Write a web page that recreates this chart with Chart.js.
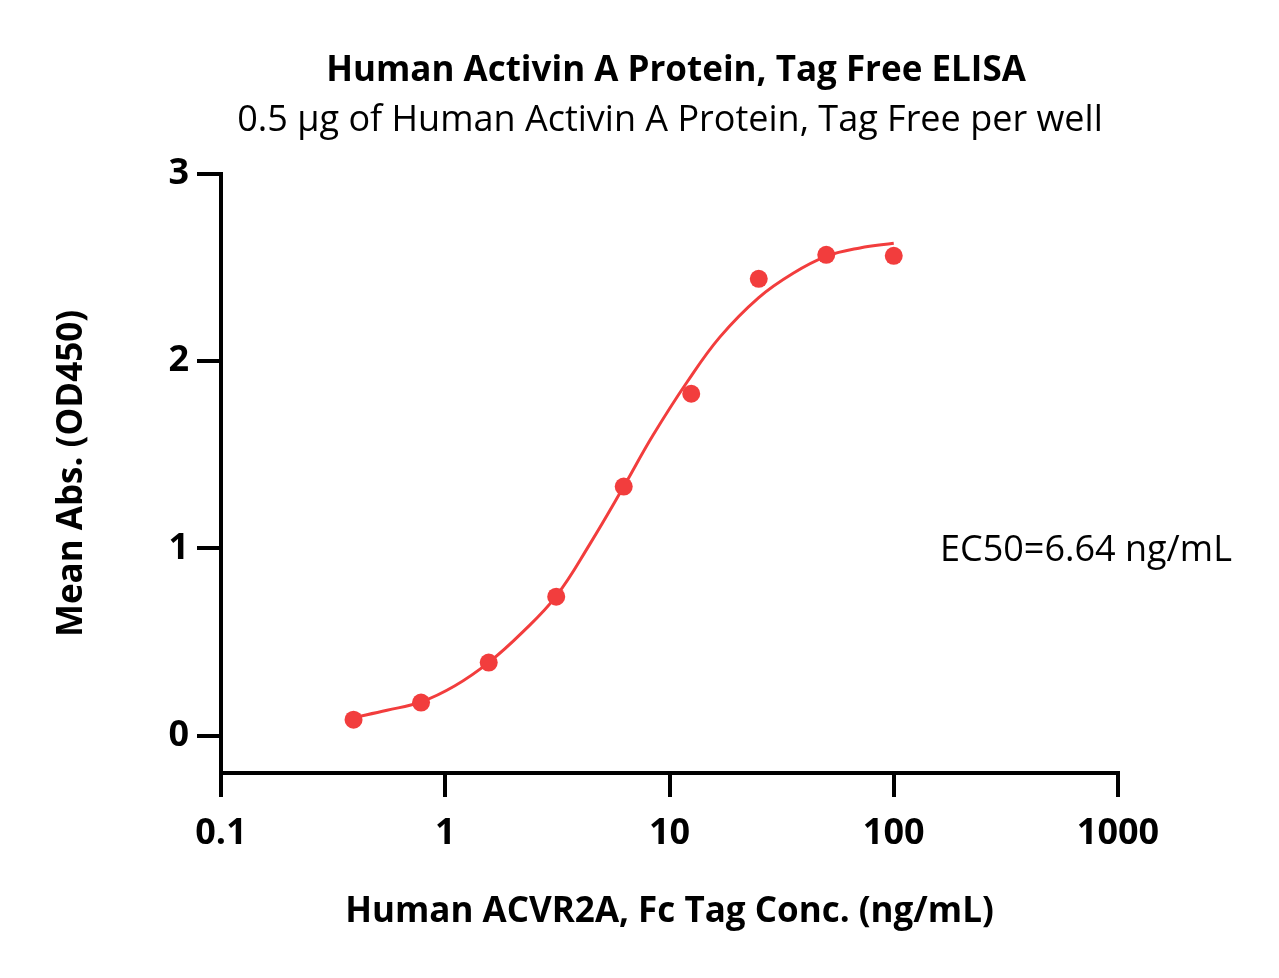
<!DOCTYPE html>
<html lang="en">
<head>
    <meta charset="UTF-8">
    <title>Human Activin A Protein ELISA</title>
    <script src="https://cdn.jsdelivr.net/npm/chart.js"></script>
    <style>
        html, body { margin: 0; padding: 0; background: #fff; }
        #wrap { width: 1279px; height: 978px; position: relative; }
    </style>
</head>
<body>
<div id="wrap"><canvas id="chartElisa"></canvas></div>

<script>
    // measured points (conc. in ng/mL, OD450)
    const concPoints = [0.39, 0.78, 1.5625, 3.125, 6.25, 12.5, 25, 50, 100];
    const absPoints = [0.085, 0.176, 0.39, 0.742, 1.33, 1.826, 2.44, 2.568, 2.563];

    // fitted curve
    const concCurve = [0.39, 0.55, 0.78, 1.1, 1.56, 2.2, 3.125, 4.4, 6.25, 8.4, 12, 16.8, 25, 35.6, 50, 70.7, 100];
    const absCurve = [0.096, 0.135, 0.18, 0.265, 0.39, 0.55, 0.745, 1.02, 1.33, 1.60, 1.89, 2.13, 2.34, 2.47, 2.56, 2.605, 2.63];

    const xTicks = [0.1, 1, 10, 100, 1000];
    const yTicks = [0, 1, 2, 3];

    const titulo = "Human Activin A Protein, Tag Free ELISA";
    const subtitulo = "0.5 \u03bcg of Human Activin A Protein, Tag Free per well";
    const textoEC50 = "EC50=6.64 ng/mL";

    const vermelho = "#f23d3d";
    const fonte = "'Open Sans', Lato, sans-serif";

    // texts drawn at fixed places on the canvas
    const textosPlugin = {
        id: "textos",
        afterDraw(chart) {
            const ctx = chart.ctx;
            ctx.save();
            ctx.fillStyle = "#000";
            ctx.textAlign = "center";
            ctx.textBaseline = "middle";
            ctx.font = "bold 35px " + fonte;
            ctx.fillText(titulo, 676, 71);
            ctx.font = "36px " + fonte;
            ctx.fillText(subtitulo, 670, 121);
            ctx.textAlign = "left";
            ctx.font = "36px " + fonte;
            ctx.fillText(textoEC50, 940, 551);
            ctx.restore();
        }
    };

    const grafico = new Chart(document.getElementById("chartElisa"), {
        type: "scatter",
        data: {
            datasets: [{
                label: "Pontos",
                data: concPoints.map((x, i) => ({ x: x, y: absPoints[i] })),
                backgroundColor: vermelho,
                borderColor: vermelho,
                pointRadius: 9,
                pointBorderWidth: 0,
                order: 0
            }, {
                label: "Curva",
                type: "line",
                data: concCurve.map((x, i) => ({ x: x, y: absCurve[i] })),
                borderColor: vermelho,
                borderWidth: 3,
                pointRadius: 0,
                fill: false,
                tension: 0.4,
                order: 1
            }]
        },
        options: {
            responsive: true,
            maintainAspectRatio: false,
            animation: false,
            layout: { padding: { top: 174, right: 161, left: 0, bottom: 0 } },
            plugins: {
                legend: { display: false },
                tooltip: { enabled: false }
            },
            scales: {
                x: {
                    type: "logarithmic",
                    min: 0.1,
                    max: 1000,
                    afterBuildTicks: (scale) => { scale.ticks = xTicks.map(v => ({ value: v })); },
                    afterFit: (scale) => { scale.height = 205; },
                    border: { display: true, color: "#000", width: 4 },
                    grid: { drawOnChartArea: false, drawTicks: true, tickLength: 24, color: "#000", lineWidth: 4 },
                    ticks: {
                        color: "#000",
                        padding: 15,
                        maxRotation: 0,
                        font: { family: fonte, size: 36, weight: "bold" },
                        callback: (v) => String(v)
                    },
                    title: {
                        display: true,
                        text: "Human ACVR2A, Fc Tag Conc. (ng/mL)",
                        color: "#000",
                        font: { family: fonte, size: 35, weight: "bold" },
                        padding: { top: 0, bottom: 45 }
                    }
                },
                y: {
                    min: -0.2,
                    max: 3,
                    afterBuildTicks: (scale) => { scale.ticks = yTicks.map(v => ({ value: v })); },
                    afterFit: (scale) => { scale.width = 221; },
                    border: { display: true, color: "#000", width: 4 },
                    grid: { drawOnChartArea: false, drawTicks: true, tickLength: 24, color: "#000", lineWidth: 4 },
                    ticks: {
                        color: "#000",
                        padding: 8,
                        font: { family: fonte, size: 36, weight: "bold" },
                        callback: (v) => String(v)
                    },
                    title: {
                        display: true,
                        text: "Mean Abs. (OD450)",
                        color: "#000",
                        font: { family: fonte, size: 35, weight: "bold" },
                        padding: { top: 51, bottom: 0 }
                    }
                }
            }
        },
        plugins: [textosPlugin]
    });
</script>
</body>
</html>
